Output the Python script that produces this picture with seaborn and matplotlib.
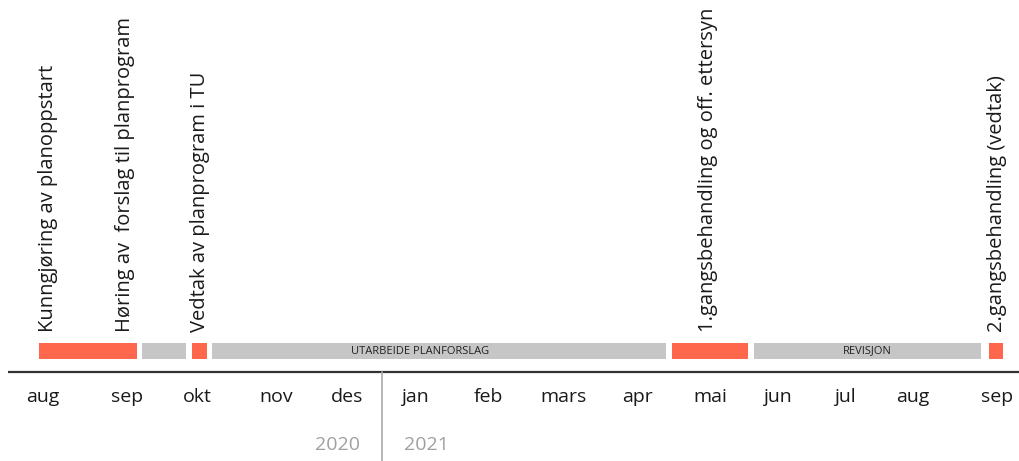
import matplotlib
matplotlib.use('Agg')
import matplotlib.pyplot as plt
import seaborn as sns

# tidsakse i måneder fra 1. aug 2020 (skala lest fra bildet)
months = ['aug', 'sep', 'okt', 'nov', 'des', 'jan', 'feb', 'mars', 'apr',
          'mai', 'jun', 'jul', 'aug', 'sep']
month_pos = [0.59, 1.75, 2.71, 3.79, 4.76, 5.70, 6.70, 7.73, 8.75,
             9.75, 10.67, 11.60, 12.53, 13.68]

# faser: start, slutt, type
phase_start = [0.54, 1.95, 2.63, 2.91, 9.23, 10.35, 13.57]
phase_end = [1.88, 2.55, 2.84, 9.14, 10.26, 13.47, 13.77]
phase_kind = ['milepæl', 'arbeid', 'milepæl', 'arbeid', 'milepæl', 'arbeid', 'milepæl']
phase_text = ['', '', '', 'UTARBEIDE PLANFORSLAG', '', 'REVISJON', '']
phase_text_pos = [None, None, None, 5.76, None, 11.91, None]

milestones = ['Kunngjøring av planoppstart',
              'Høring av  forslag til planprogram',
              'Vedtak av planprogram i TU',
              '1.gangsbehandling og off. ettersyn',
              '2.gangsbehandling (vedtak)']
milestone_pos = [0.66, 1.72, 2.75, 9.72, 13.68]

year_split = 5.24
years = ['2020', '2021']

sns.set_theme(style='white')
plt.rcParams['font.family'] = ['Open Sans', 'DejaVu Sans']

colors = {'milepæl': '#FF674D', 'arbeid': '#C6C6C6'}

fig = plt.figure(figsize=(10.2, 4.61), dpi=100)
ax = fig.add_axes([0, 0, 1, 1])
ax.set_xlim(0, 14)
ax.set_ylim(0, 461)
ax.axis('off')

bar_y, bar_h = 110, 16
for s, e, k in zip(phase_start, phase_end, phase_kind):
    ax.barh(bar_y, e - s, left=s, height=bar_h, color=colors[k], linewidth=0)

for t, p in zip(phase_text, phase_text_pos):
    if t:
        ax.text(p, bar_y, t, ha='center', va='center', fontsize=8, color='#222222')

# tidslinje
ax.plot([0.11, 14], [88.7, 88.7], color='#333333', lw=1.6, solid_capstyle='butt')
ax.plot([year_split, year_split], [0, 88.7], color='#AAAAAA', lw=1.2)

for m, p in zip(months, month_pos):
    ax.text(p, 64, m, ha='center', va='center', fontsize=14, color='#1a1a1a')

ax.text(year_split - 0.3, 16, years[0], ha='right', va='center', fontsize=14, color='#A0A0A0')
ax.text(year_split + 0.3, 16, years[1], ha='left', va='center', fontsize=14, color='#A0A0A0')

for t, p in zip(milestones, milestone_pos):
    ax.text(p, 129, t, rotation=90, ha='center', va='bottom', fontsize=14.5, color='#1a1a1a')

fig.savefig('out.png', dpi=100)
